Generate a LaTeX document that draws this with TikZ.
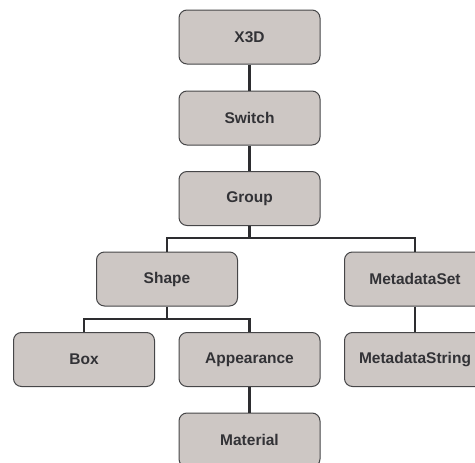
\documentclass[tikz,border=0pt]{standalone}
\usepackage{fontspec}
\setmainfont{Liberation Sans}
\definecolor{boxfill}{RGB}{205,199,196}
\definecolor{boxline}{RGB}{70,70,72}
\definecolor{linkcol}{RGB}{45,45,48}
\definecolor{textcol}{RGB}{50,50,54}
\begin{document}
\begin{tikzpicture}[x=1pt,y=-1pt,
  nodebox/.style={draw=boxline,line width=1pt,fill=boxfill,rounded corners=8pt,
    minimum width=141pt,minimum height=54pt,inner sep=0pt,
    font=\fontsize{15.5}{18}\selectfont\bfseries,text=textcol},
  link/.style={draw=linkcol,line width=2.9pt}]
\useasboundingbox (0,0) rectangle (475,463);
\begin{scope}
\clip (0,0) rectangle (475,463);
\coordinate (bar1) at (249.5,238);
\coordinate (bar2) at (167,319);
\node[nodebox] (x3d) at (249.5,37) {X3D};
\node[nodebox] (switch) at (249.5,118) {Switch};
\node[nodebox] (group) at (249.5,198.5) {Group};
\node[nodebox] (shape) at (167,279) {Shape};
\node[nodebox] (mset) at (415,279) {MetadataSet};
\node[nodebox] (box) at (84,359.5) {Box};
\node[nodebox] (app) at (249.5,359.5) {Appearance};
\node[nodebox] (mstr) at (415,359.5) {MetadataString};
\node[nodebox] (mat) at (249.5,440) {Material};
\draw[link] (x3d.south) -- (switch.north);
\draw[link] (switch.south) -- (group.north);
\draw[link] (group.south) -- (bar1);
\draw[link] (shape.north) |- (bar1) -| (mset.north);
\draw[link] (shape.south) -- (bar2);
\draw[link] (box.north) |- (bar2) -| (app.north);
\draw[link] (mset.south) -- (mstr.north);
\draw[link] (app.south) -- (mat.north);
\end{scope}
\end{tikzpicture}
\end{document}
